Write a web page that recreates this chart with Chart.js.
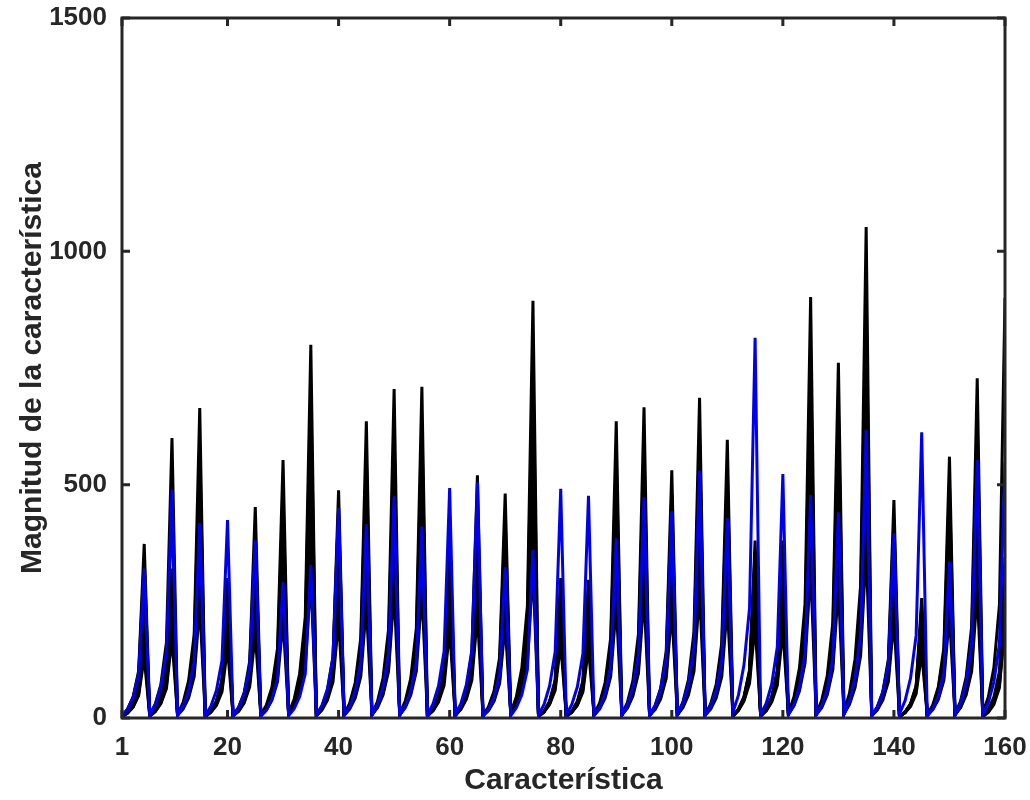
<!DOCTYPE html>
<html>
<head>
<meta charset="utf-8">
<script src="https://cdn.jsdelivr.net/npm/chart.js@4.4.1/dist/chart.umd.min.js"></script>
<style>
  html, body { margin: 0; padding: 0; background: #fff; }
  #chart { display: block; }
</style>
</head>
<body>
<canvas id="chart" width="1030" height="800"></canvas>
<script>
// feature index 1..160
var features = Array.from({ length: 160 }, function (_, i) { return i + 1; });
var xTicks = [1, 20, 40, 60, 80, 100, 120, 140, 160];
var yTicks = [0, 500, 1000, 1500];

// blue series (drawn on top)
var blueSeries = [
  5,19,45,93,320, 7,29,68,142,489, 6,25,59,121,418, 6,25,59,123,424,
  6,23,53,110,381, 4,17,41,84,291, 5,20,46,95,328, 7,27,63,131,450,
  6,25,58,120,415, 7,29,67,138,475, 6,25,57,119,410, 7,30,69,143,493,
  8,30,71,146,505, 5,19,45,94,323, 5,22,50,104,360, 7,29,69,142,491,
  7,29,67,138,476, 6,23,54,112,385, 7,28,66,137,473, 7,27,62,128,443,
  8,32,74,154,530, 6,26,60,124,428, 12,49,114,236,815, 8,31,73,152,523,
  7,29,67,139,478, 7,26,62,128,441, 9,37,86,179,617, 6,24,55,115,396,
  9,37,86,177,612, 5,20,47,97,335, 8,33,77,160,553, 8,33,77,159,549
];

// black series
var black1 = [
  4,19,45,101,373, 7,30,72,162,600, 8,33,80,179,664, 4,15,36,81,300,
  5,23,54,122,452, 7,28,66,149,553, 10,40,96,216,800, 6,24,59,132,488,
  8,32,76,172,636, 8,35,85,190,705, 9,36,85,192,710, 5,20,48,108,400,
  6,26,62,140,520, 6,24,58,130,481, 11,45,107,241,894, 4,15,36,81,300,
  4,15,36,80,296, 8,32,76,172,636, 8,33,80,180,666, 6,27,64,143,531,
  8,34,82,185,686, 7,30,72,161,596, 5,19,46,103,380, 5,19,46,103,380,
  11,45,108,244,902, 9,38,91,205,761, 13,53,126,284,1052, 6,23,56,126,467,
  3,13,31,69,257, 7,28,67,151,560, 9,36,87,197,728, 11,45,108,243,900
];
var black2 = [
  4,17,43,95,340, 5,23,56,126,450, 7,29,73,162,580, 3,14,36,80,285,
  5,20,50,112,400, 6,24,60,134,480, 8,35,88,196,700, 5,23,56,126,450,
  7,28,70,157,560, 7,31,76,171,610, 7,31,78,174,620, 4,19,46,104,370,
  6,23,58,129,460, 5,22,54,120,430, 9,38,95,213,760, 3,14,35,78,280,
  3,14,34,77,275, 7,28,70,157,560, 7,29,73,162,580, 6,24,60,134,480,
  7,30,75,168,600, 6,27,66,148,530, 4,18,44,99,355, 4,18,44,98,350,
  9,39,96,216,770, 8,33,83,185,660, 11,45,113,252,900, 5,21,53,119,425,
  3,12,30,67,240, 6,25,63,140,500, 8,32,80,179,640, 3,15,36,81,290
];
var black3 = [
  3,16,38,84,290, 4,18,42,93,320, 6,26,62,139,480, 3,14,34,75,260,
  4,19,46,102,350, 5,23,55,122,420, 7,34,81,180,620, 5,22,52,116,400,
  6,26,62,139,480, 6,29,68,151,520, 6,29,69,154,530, 4,18,43,96,330,
  5,22,52,116,400, 5,21,49,110,380, 8,36,85,189,650, 3,14,34,75,260,
  3,14,33,73,250, 6,26,62,139,480, 6,28,65,145,500, 5,23,55,122,420,
  6,29,68,151,520, 6,25,60,133,460, 4,18,43,96,330, 4,18,42,93,320,
  8,36,85,189,650, 7,31,73,162,560, 9,42,99,220,760, 5,21,49,110,380,
  3,12,29,64,220, 5,24,56,125,430, 6,30,70,157,540, 4,19,45,100,345
];
var black4 = [
  3,13,31,69,230, 4,17,39,87,290, 6,25,58,129,430, 3,14,32,72,240,
  4,18,43,95,315, 5,22,51,113,375, 8,32,74,165,550, 5,21,49,110,365,
  6,25,58,129,430, 7,27,63,141,470, 7,28,64,143,475, 4,18,41,92,305,
  5,21,49,110,365, 5,20,46,102,340, 8,33,78,173,575, 3,14,33,74,245,
  3,13,31,69,230, 6,25,57,128,425, 6,26,61,135,450, 5,22,52,116,385,
  7,27,63,141,470, 6,24,57,126,420, 4,18,42,93,310, 4,17,41,90,300,
  8,33,78,173,575, 7,29,68,150,500, 9,38,89,198,660, 5,20,47,105,350,
  3,12,28,63,210, 5,22,52,116,385, 7,28,65,144,480, 3,12,29,65,215
];
var black5 = [
  3,11,25,56,180, 4,15,35,78,250, 6,23,53,118,380, 3,13,31,68,220,
  4,17,39,87,280, 5,20,46,102,330, 7,29,67,149,480, 5,20,46,102,330,
  6,23,53,118,380, 6,25,59,130,420, 6,25,59,130,420, 4,17,39,87,280,
  5,20,46,102,330, 5,18,42,93,300, 8,30,70,155,500, 3,14,32,71,230,
  3,13,29,65,210, 6,22,52,115,370, 6,24,56,124,400, 5,21,49,109,350,
  6,25,59,130,420, 6,23,53,118,380, 4,17,41,90,290, 4,17,39,87,280,
  8,30,70,155,500, 7,26,62,136,440, 8,34,78,174,560, 5,19,45,99,320,
  3,12,28,62,200, 5,20,48,105,340, 6,25,59,130,420, 4,16,36,81,260
];
var black6 = [
  3,11,24,51,150, 4,14,32,68,200, 6,21,48,102,300, 4,13,29,61,180,
  4,15,35,75,220, 5,18,42,88,260, 8,27,61,129,380, 5,18,42,88,260,
  6,21,48,102,300, 7,23,53,112,330, 7,24,54,116,340, 5,16,37,78,230,
  5,19,43,92,270, 5,17,38,82,240, 8,28,64,136,400, 4,13,30,65,190,
  4,13,29,61,180, 6,21,48,102,300, 6,22,51,109,320, 6,20,45,95,280,
  7,24,54,116,340, 6,21,48,102,300, 5,17,38,82,240, 5,16,37,78,230,
  8,28,64,136,400, 7,25,56,119,350, 9,32,72,153,450, 5,18,42,88,260,
  3,12,27,58,170, 5,19,43,92,270, 7,23,53,112,330, 5,16,37,79,231
];
var black7 = [
  3,10,23,48,130, 4,14,31,63,170, 6,19,43,89,240, 4,12,27,56,150,
  5,14,32,67,180, 5,17,38,78,210, 8,24,54,111,300, 5,17,38,78,210,
  6,19,43,89,240, 7,22,49,100,270, 7,22,49,100,270, 5,15,34,70,190,
  6,18,40,81,220, 5,16,36,74,200, 8,26,58,118,320, 4,13,29,59,160,
  4,12,27,56,150, 6,19,43,89,240, 7,21,47,96,260, 6,18,41,85,230,
  7,22,49,100,270, 6,19,43,89,240, 5,16,36,74,200, 5,15,34,70,190,
  8,26,58,118,320, 7,22,50,104,280, 9,29,65,133,360, 5,17,38,78,210,
  4,11,25,52,140, 6,18,40,81,220, 7,22,49,100,270, 5,16,35,72,195
];

var blackList = [black1, black2, black3, black4, black5, black6, black7];
var axisColor = '#262626';
var fontFamily = "'Liberation Sans', Arial, Helvetica, sans-serif";

function toPoints(arr) {
  return arr.map(function (v, i) { return { x: features[i], y: v }; });
}

var datasets = [{
  data: toPoints(blueSeries),
  borderColor: '#0000f0',
  borderWidth: 3,
  order: 0
}];
blackList.forEach(function (s) {
  datasets.push({ data: toPoints(s), borderColor: '#000000', borderWidth: 3, order: 1 });
});

// box around the plot with inward ticks (matlab style)
var boxPlugin = {
  id: 'box',
  afterDraw: function (chart) {
    var ctx = chart.ctx, a = chart.chartArea;
    var xs = chart.scales.x, ys = chart.scales.y;
    var len = 8;
    ctx.save();
    ctx.strokeStyle = axisColor;
    ctx.lineWidth = 3;
    ctx.beginPath();
    xTicks.forEach(function (t) {
      var px = xs.getPixelForValue(t);
      ctx.moveTo(px, a.bottom); ctx.lineTo(px, a.bottom - len);
      ctx.moveTo(px, a.top); ctx.lineTo(px, a.top + len);
    });
    yTicks.forEach(function (t) {
      var py = ys.getPixelForValue(t);
      ctx.moveTo(a.left, py); ctx.lineTo(a.left + len, py);
      ctx.moveTo(a.right, py); ctx.lineTo(a.right - len, py);
    });
    ctx.stroke();
    ctx.strokeRect(a.left, a.top, a.right - a.left, a.bottom - a.top);
    ctx.restore();
  }
};

var ctx = document.getElementById('chart').getContext('2d');
var myChart = new Chart(ctx, {
  type: 'line',
  data: { datasets: datasets },
  options: {
    responsive: false,
    animation: false,
    devicePixelRatio: 1,
    layout: { padding: { left: 0, right: 25, top: 18, bottom: 0 } },
    elements: { point: { radius: 0 }, line: { tension: 0 } },
    plugins: { legend: { display: false }, tooltip: { enabled: false } },
    scales: {
      x: {
        type: 'linear',
        min: 1,
        max: 160,
        grid: { display: false },
        border: { display: false },
        afterBuildTicks: function (scale) {
          scale.ticks = xTicks.map(function (v) { return { value: v }; });
        },
        afterFit: function (scale) {
          scale.height = 82;
          scale.paddingLeft = 0;
          scale.paddingRight = 0;
        },
        ticks: {
          autoSkip: false,
          maxRotation: 0,
          padding: 6,
          color: axisColor,
          font: { family: fontFamily, size: 26, weight: 'bold' },
          callback: function (v) { return String(v); }
        },
        title: {
          display: true,
          text: 'Característica',
          color: axisColor,
          padding: { top: 0, bottom: 1 },
          font: { family: fontFamily, size: 30, weight: 'bold' }
        }
      },
      y: {
        min: 0,
        max: 1500,
        grid: { display: false },
        border: { display: false },
        afterBuildTicks: function (scale) {
          scale.ticks = yTicks.map(function (v) { return { value: v }; });
        },
        afterFit: function (scale) {
          scale.width = 122;
          scale.paddingTop = 0;
          scale.paddingBottom = 0;
        },
        ticks: {
          padding: 7,
          color: axisColor,
          font: { family: fontFamily, size: 26, weight: 'bold' },
          callback: function (v) { return String(v); }
        },
        title: {
          display: true,
          text: 'Magnitud de la característica',
          color: axisColor,
          padding: { top: 15, bottom: 0 },
          font: { family: fontFamily, size: 30, weight: 'bold' }
        }
      }
    }
  },
  plugins: [boxPlugin]
});
</script>
</body>
</html>
